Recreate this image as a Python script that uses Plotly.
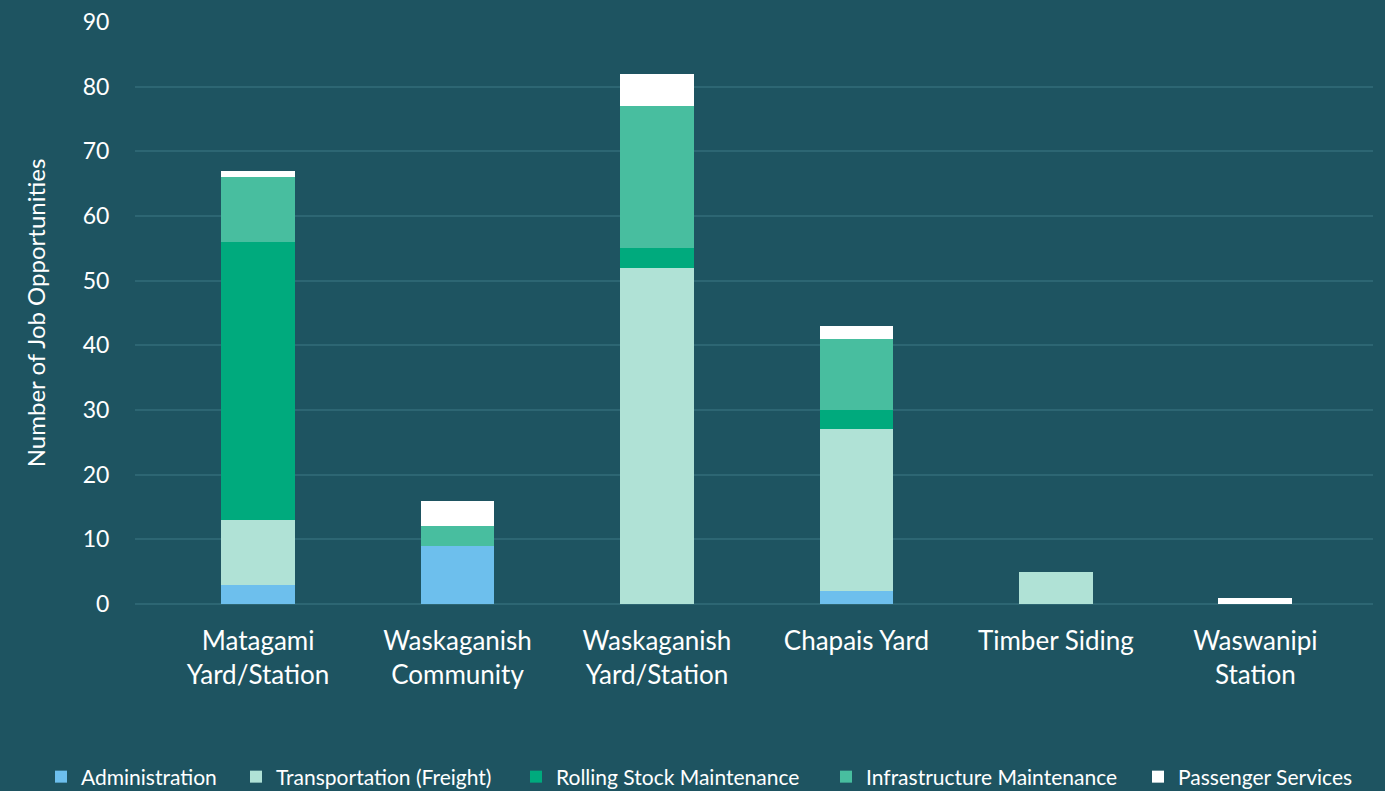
import plotly.graph_objects as go

categories = ["Matagami<br>Yard/Station", "Waskaganish<br>Community", "Waskaganish<br>Yard/Station",
              "Chapais Yard", "Timber Siding", "Waswanipi<br>Station"]
administration = [3, 9, 0, 2, 0, 0]
transportation = [10, 0, 52, 25, 5, 0]
rolling_stock = [43, 0, 3, 3, 0, 0]
infrastructure = [10, 3, 22, 11, 0, 0]
passenger = [1, 4, 5, 2, 0, 1]

series = [
    ("Administration", administration, "#6dbfed", 150),
    ("Transportation (Freight)", transportation, "#b0e2d6", 235),
    ("Rolling Stock Maintenance", rolling_stock, "#00aa7d", 265),
    ("Infrastructure Maintenance", infrastructure, "#48be9f", 267),
    ("Passenger Services", passenger, "#ffffff", 185),
]

BG = "#1e5461"
GRID = "#2d6673"
FONT = "Lato, Open Sans, sans-serif"

fig = go.Figure()
for name, vals, color, lw in series:
    fig.add_trace(go.Bar(x=list(range(len(categories))), y=vals, name=name,
                         marker=dict(color=color, line=dict(width=0)), width=0.37,
                         legendwidth=lw))

fig.update_layout(
    barmode="stack",
    width=1385, height=791,
    paper_bgcolor=BG, plot_bgcolor=BG,
    margin=dict(l=135, r=12, t=22, b=187, autoexpand=False),
    font=dict(family=FONT, color="white"),
    showlegend=True,
    legend=dict(orientation="h", xref="paper", x=(41 - 135) / 1238, xanchor="left",
                yref="paper", y=-(777 - 604) / 582, yanchor="middle",
                font=dict(size=21, color="white"), traceorder="normal",
                itemwidth=30),
    xaxis=dict(tickmode="array", tickvals=list(range(len(categories))), ticktext=categories,
               range=[-0.617, 5.59], showgrid=False, zeroline=False, showline=False,
               automargin=False,
               tickfont=dict(size=26, color="white"), ticks="outside", ticklen=14,
               tickcolor=BG),
    yaxis=dict(range=[0, 90], dtick=10, showgrid=True, gridcolor=GRID, gridwidth=2,
               zeroline=True, zerolinecolor=GRID, zerolinewidth=2, showline=False,
               automargin=False,
               tickfont=dict(size=23, color="white"),
               ticks="outside", ticklen=20, tickcolor=BG,
               title=dict(text="Number of Job Opportunities", font=dict(size=24, color="white"),
                          standoff=30)),
)
fig.write_html("out.html", config={"displayModeBar": False},
               post_script="document.body.style.margin='0';document.body.style.overflow='hidden';")
